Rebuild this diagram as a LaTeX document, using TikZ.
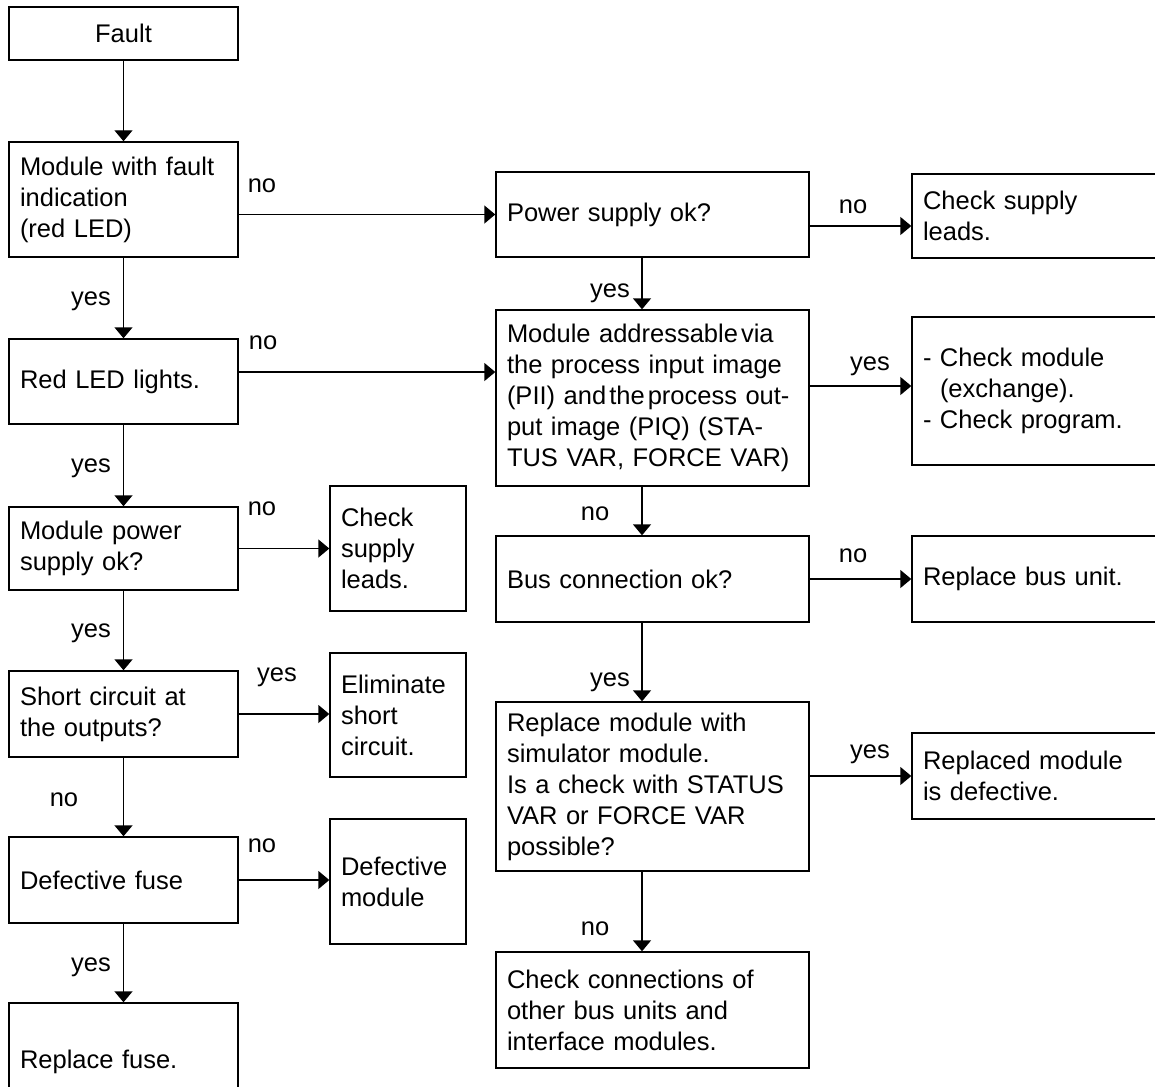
\documentclass[tikz,border=0pt]{standalone}
\usepackage{fontspec}
\setmainfont{Liberation Sans}
\usetikzlibrary{arrows.meta,calc}
\begin{document}
\begin{tikzpicture}[x=1pt,y=-1pt,
  txt/.style={font=\fontsize{25.5pt}{31pt}\selectfont},
  box/.style={txt,draw,line width=1.4pt,rectangle,inner xsep=11pt,inner ysep=0pt,align=left},
  lcol/.style={box,text width=207pt},
  scol/.style={box,text width=114pt},
  mcol/.style={box,text width=291pt},
  rcol/.style={box,text width=246pt},
  arr/.style={line width=1.4pt,-{Triangle[length=11pt,width=18pt]}},
  lbl/.style={txt,inner sep=0pt,anchor=base}]
\path[use as bounding box,clip] (0,0) rectangle (1155,1086);
\fill[white] (0,0) rectangle (1155,1086);
% left column
\node[lcol,align=center,minimum height=53pt] (fault) at (123.5,33.5) {Fault};
\node[lcol,minimum height=115pt] (m1) at (123.5,199.5) {Module with fault\\indication\\(red LED)};
\node[lcol,minimum height=85pt] (red) at (123.5,381.5) {Red LED lights.};
\node[lcol,minimum height=83pt] (mps) at (123.5,548.5) {Module power\\supply ok?};
\node[lcol,minimum height=86pt] (sc) at (123.5,714) {Short circuit at\\the outputs?};
\node[lcol,minimum height=86pt] (fuse) at (123.5,880) {Defective fuse};
\node[lcol,minimum height=118pt] (rf) at (123.5,1062) {Replace fuse.};
% small column
\node[scol,minimum height=125pt] (csl1) at (398,548.5) {Check\\supply\\leads.};
\node[scol,minimum height=124pt] (elim) at (398,715) {Eliminate\\short\\circuit.};
\node[scol,minimum height=125pt] (defm) at (398,881.5) {Defective\\module};
% middle column
\node[mcol,minimum height=85pt] (ps) at (652.5,214.5) {Power supply ok?};
\node[mcol,minimum height=176pt] (ma) at (652.5,398) {\mbox{Module addressable\hspace{0.12em}via}\\\mbox{the process input image}\\\mbox{(PII) and\hspace{0.12em}the\hspace{0.12em}process out-}\\\mbox{put image (PIQ) (STA-}\\\mbox{TUS VAR, FORCE VAR)}};
\node[mcol,minimum height=86pt] (bus) at (652.5,579) {Bus connection ok?};
\node[mcol,minimum height=169pt] (rm) at (652.5,786.5) {Replace module with\\simulator module.\\Is a check with STATUS\\VAR or FORCE VAR\\possible?};
\node[mcol,minimum height=116pt] (cc) at (652.5,1010) {Check connections of\\other bus units and\\interface modules.};
% right column
\node[rcol,minimum height=84pt] (csl2) at (1046,216) {Check supply\\leads.};
\node[rcol,minimum height=148pt] (cm) at (1046,391) {- Check module\\\phantom{- }(exchange).\\- Check program.};
\node[rcol,minimum height=86pt] (rb) at (1046,579) {Replace bus unit.};
\node[rcol,minimum height=86pt] (rmd) at (1046,776) {Replaced module\\is defective.};
% helper coordinates
\coordinate (mx) at (642,0);
\coordinate (r1) at (0,372);
\coordinate (r2) at (0,226);
\coordinate (r3) at (0,386);
% left vertical arrows
\draw[arr] (fault) -- (m1);
\draw[arr] (m1) -- (red);
\draw[arr] (red) -- (mps);
\draw[arr] (mps) -- (sc);
\draw[arr] (sc) -- (fuse);
\draw[arr] (fuse) -- (rf);
% left horizontal arrows
\draw[arr] (m1.east |- ps.west) -- (ps.west);
\draw[arr] (red.east |- r1) -- (ma.west |- r1);
\draw[arr] (mps.east) -- (csl1.west |- mps.east);
\draw[arr] (sc.east) -- (elim.west |- sc.east);
\draw[arr] (fuse.east) -- (defm.west |- fuse.east);
% middle vertical arrows
\draw[arr] (ps.south -| mx) -- (ma.north -| mx);
\draw[arr] (ma.south -| mx) -- (bus.north -| mx);
\draw[arr] (bus.south -| mx) -- (rm.north -| mx);
\draw[arr] (rm.south -| mx) -- (cc.north -| mx);
% right horizontal arrows
\draw[arr] (ps.east |- r2) -- (csl2.west |- r2);
\draw[arr] (ma.east |- r3) -- (cm.west |- r3);
\draw[arr] (bus.east |- rb.west) -- (rb.west);
\draw[arr] (rm.east |- rmd.west) -- (rmd.west);
% labels
\node[lbl] (l1) at (262,193) {no};
\node[lbl] (l2) at (91,305) {yes};
\node[lbl] (l3) at (263,349) {no};
\node[lbl] (l4) at (91,472) {yes};
\node[lbl] (l5) at (262,515) {no};
\node[lbl] (l6) at (91,637) {yes};
\node[lbl] (l7) at (277,681) {yes};
\node[lbl] (l8) at (64,806) {no};
\node[lbl] (l9) at (262,852) {no};
\node[lbl] (l10) at (91,971) {yes};
\node[lbl] (l11) at (853,213) {no};
\node[lbl] (l12) at (610,297) {yes};
\node[lbl] (l13) at (870,370) {yes};
\node[lbl] (l14) at (595,520) {no};
\node[lbl] (l15) at (853,562) {no};
\node[lbl] (l16) at (610,686) {yes};
\node[lbl] (l17) at (870,758) {yes};
\node[lbl] (l18) at (595,935) {no};
\end{tikzpicture}
\end{document}
